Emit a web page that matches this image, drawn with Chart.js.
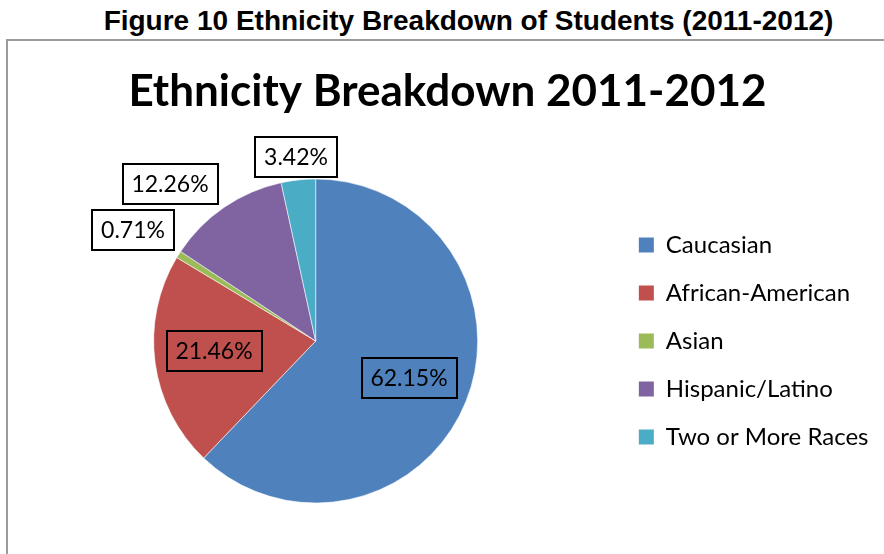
<!DOCTYPE html>
<html>
<head>
<meta charset="utf-8">
<script src="https://cdn.jsdelivr.net/npm/chart.js@4/dist/chart.umd.min.js"></script>
<style>
  html, body { margin: 0; padding: 0; background: #fff; }
  body { width: 884px; height: 554px; position: relative; overflow: hidden; }
  #caption {
    position: absolute; left: 0; top: 5px; width: 937px; text-align: center;
    font: bold 28px "Liberation Sans", Arial, sans-serif; color: #000;
  }
  #frame {
    position: absolute; left: 6px; top: 39px; width: 1000px; height: 700px;
    border-left: 2px solid #9b9b9b; border-top: 2px solid #9b9b9b;
  }
  canvas { position: absolute; left: 0; top: 0; }
</style>
</head>
<body>
<div id="frame"></div>
<div id="caption">Figure 10 Ethnicity Breakdown of Students (2011-2012)</div>
<canvas id="chart" width="884" height="554"></canvas>
<script>
// Student ethnicity shares, school year 2011-2012 (percent)
const categories = ['Caucasian', 'African-American', 'Asian', 'Hispanic/Latino', 'Two or More Races'];
const shares = [62.15, 21.46, 0.71, 12.26, 3.42];
const sliceColors = ['#4F81BD', '#C0504D', '#9BBB59', '#8064A2', '#4BACC6'];

// Where each value box sits: distance from centre as a fraction of the radius,
// plus a small angular nudge (degrees) away from the slice middle.
const labelPlacement = [
  { r: 0.62, a: 0 },
  { r: 0.63, a: 2 },
  { r: 1.321, a: -1.1 },
  { r: 1.319, a: -8.5 },
  { r: 1.143, a: 0 }
];

// Draws each percentage inside a thin black rectangle
const boxedLabels = {
  id: 'boxedLabels',
  afterDatasetsDraw(chart, args, opts) {
    const ctx = chart.ctx;
    const meta = chart.getDatasetMeta(0);
    ctx.save();
    ctx.font = opts.font;
    ctx.textAlign = 'center';
    ctx.textBaseline = 'middle';
    meta.data.forEach((arc, i) => {
      const p = arc.getProps(['x', 'y', 'startAngle', 'endAngle', 'outerRadius'], true);
      const place = labelPlacement[i];
      const mid = (p.startAngle + p.endAngle) / 2 + place.a * Math.PI / 180;
      const dist = p.outerRadius * place.r;
      const cx = Math.round(p.x + Math.cos(mid) * dist);
      const cy = Math.round(p.y + Math.sin(mid) * dist);
      const text = shares[i].toFixed(2) + '%';
      const w = Math.round(ctx.measureText(text).width + 2 * opts.padX);
      const h = opts.boxHeight;
      const left = Math.round(cx - w / 2), top = Math.round(cy - h / 2);
      ctx.lineWidth = 2;
      ctx.strokeStyle = '#000';
      ctx.strokeRect(left, top, w, h);
      ctx.fillStyle = '#000';
      ctx.fillText(text, cx, cy + 1);
    });
    ctx.restore();
  }
};

new Chart(document.getElementById('chart'), {
  type: 'pie',
  data: {
    labels: categories,
    datasets: [{
      data: shares,
      backgroundColor: sliceColors,
      borderColor: 'rgba(255,255,255,0.55)',
      borderWidth: 1
    }]
  },
  plugins: [boxedLabels],
  options: {
    responsive: false,
    animation: false,
    devicePixelRatio: 1,
    radius: 162,
    layout: { padding: { left: 16.5, top: 40, right: 5.5, bottom: 51 } },
    plugins: {
      title: {
        display: true,
        text: 'Ethnicity Breakdown 2011-2012',
        color: '#000',
        font: { family: 'Lato', size: 44, weight: 'bold' },
        padding: { top: 25, bottom: 61.2 }
      },
      legend: {
        position: 'right',
        align: 'center',
        fullSize: false,
        labels: {
          color: '#000',
          font: { family: 'Lato', size: 24 },
          boxWidth: 15,
          boxHeight: 15,
          padding: 24,
          generateLabels(chart) {
            const base = Chart.overrides.pie.plugins.legend.labels.generateLabels(chart);
            return base.map(item => Object.assign(item, { lineWidth: 0 }));
          }
        }
      },
      tooltip: { enabled: false },
      boxedLabels: { font: '23px Lato', padX: 9, boxHeight: 40 }
    }
  }
});
</script>
</body>
</html>
